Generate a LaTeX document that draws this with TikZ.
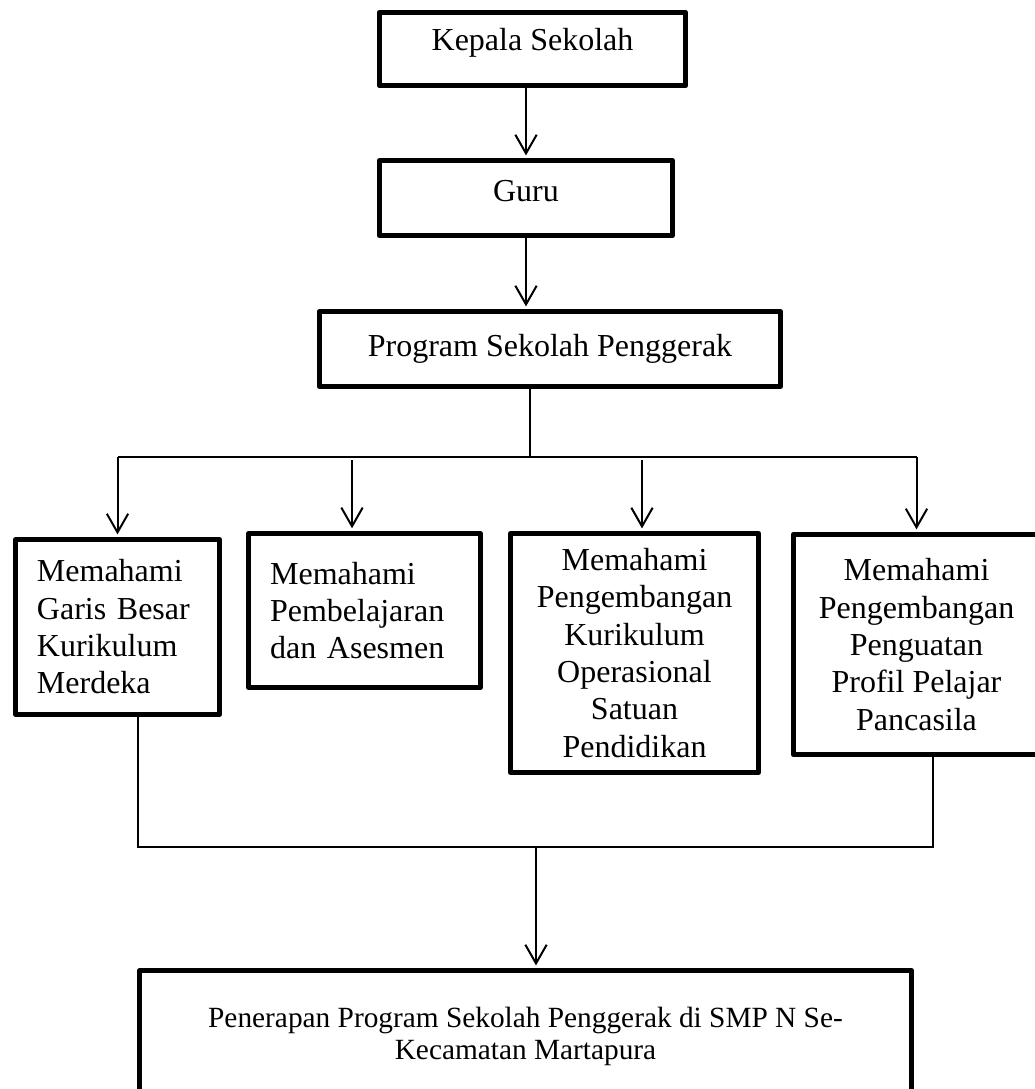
\documentclass[tikz,border=0pt]{standalone}
\usepackage{fontspec}
\setmainfont{Liberation Serif}
\usepackage{tikz}
\usetikzlibrary{positioning,calc,arrows.meta}

\newcommand{\naik}[2]{\raisebox{#1}[\height][\depth]{#2}}

\begin{document}
\begin{tikzpicture}[x=0.375pt,y=-0.375pt,
    kotak/.style={draw,line width=1.75pt,line join=round,inner sep=0pt,
                  font=\fontsize{12pt}{14pt}\selectfont},
    kotakkiri/.style={kotak,align=left,inner xsep=8pt},
    kotaktengah/.style={kotak,align=center},
    garis/.style={line width=0.75pt},
    panah/.style={garis,shorten >=1pt,-{Straight Barb[length=7pt,width=8pt]}}]
  \useasboundingbox (0,0) rectangle (1035,1089);

  \node[kotak,minimum width=114.9pt,minimum height=27.5pt] (kepala) at (532.5,49) {\naik{2.4pt}{Kepala Sekolah}};
  \node[kotak,minimum width=110pt,minimum height=28.2pt] (guru) at (526,198) {\naik{2.6pt}{Guru}};
  \node[kotak,minimum width=173pt,minimum height=28.2pt] (program) at (550,349) {Program Sekolah Penggerak};

  \node[kotakkiri,text width=60.4pt,minimum height=65.7pt] (kurikulum) at (117.5,627)
      {Memahami\\Garis Besar\\Kurikulum\\Merdeka};
  \node[kotakkiri,text width=70.8pt,minimum height=57.9pt] (asesmen) at (364.5,610.5)
      {Memahami\\Pembelajaran\\dan Asesmen};
  \node[kotaktengah,minimum width=93.1pt,minimum height=89.7pt] (kosp) at (634.5,653)
      {Memahami\\Pengembangan\\Kurikulum\\Operasional\\Satuan\\Pendidikan};
  \node[kotaktengah,minimum width=92.4pt,minimum height=82.6pt] (profil) at (916.5,644.5)
      {Memahami\\Pengembangan\\Penguatan\\Profil Pelajar\\Pancasila};

  \node[kotaktengah,font=\fontsize{11pt}{12pt}\selectfont,
        minimum width=289.6pt,minimum height=49.2pt] (penerapan) at (525.5,1036)
      {Penerapan Program Sekolah Penggerak di SMP N Se-\\Kecamatan Martapura};

  \coordinate (cabang) at (530,457);
  \coordinate (t2) at (352,460);
  \coordinate (t3) at (642,460);
  \coordinate (b1) at (138,847);
  \coordinate (b4) at (933,847);
  \coordinate (gabung) at (536,847);

  \draw[panah] (kepala.south -| guru.north) -- (guru.north);
  \draw[panah] (guru.south) -- (guru.south |- program.north);
  \draw[garis] (program.south -| cabang) -- (cabang);
  \draw[garis] (kurikulum.north |- cabang) -- (profil.north |- cabang);
  \draw[panah] (kurikulum.north |- cabang) -- (kurikulum.north);
  \draw[panah] (t2) -- (t2 |- asesmen.north);
  \draw[panah] (t3) -- (t3 |- kosp.north);
  \draw[panah] (profil.north |- cabang) -- (profil.north);

  \draw[garis] (b1 |- kurikulum.south) -- (b1) -- (b4) -- (b4 |- profil.south);
  \draw[panah] (gabung) -- (gabung |- penerapan.north);
\end{tikzpicture}
\end{document}
